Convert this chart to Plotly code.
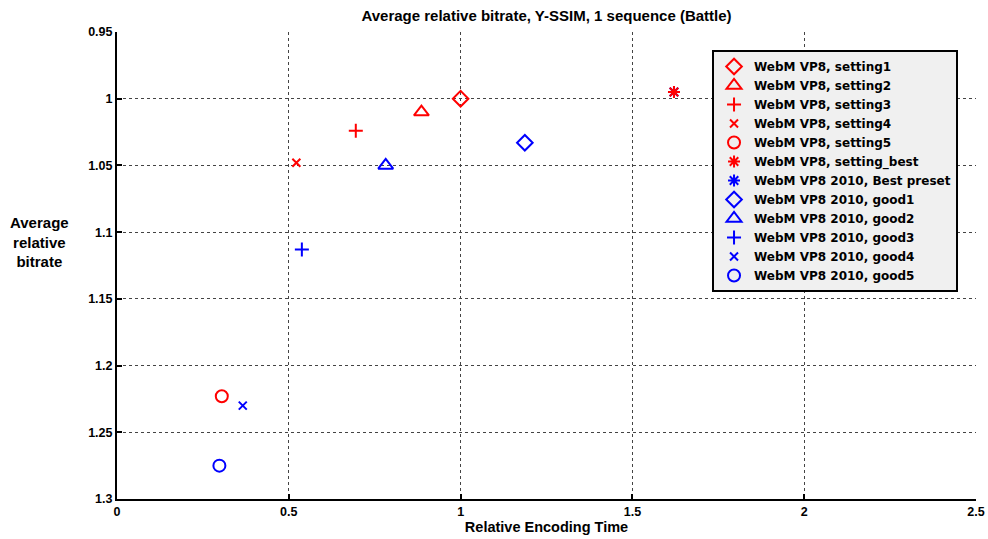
import plotly.graph_objects as go

# Relative encoding time (x) and average relative bitrate (y) per preset
series_names = [
    "WebM VP8 2010, Best preset",
    "WebM VP8, setting1",
    "WebM VP8, setting2",
    "WebM VP8, setting3",
    "WebM VP8, setting4",
    "WebM VP8, setting5",
    "WebM VP8, setting_best",
    "WebM VP8 2010, good1",
    "WebM VP8 2010, good2",
    "WebM VP8 2010, good3",
    "WebM VP8 2010, good4",
    "WebM VP8 2010, good5",
]
encoding_time = [1.621, 1.0, 0.886, 0.695, 0.522, 0.305, 1.621, 1.187, 0.782, 0.538, 0.366, 0.298]
relative_bitrate = [0.995, 1.0, 1.010, 1.024, 1.048, 1.223, 0.995, 1.033, 1.050, 1.113, 1.230, 1.275]
series_colors = ["#0000ff", "#ff0000", "#ff0000", "#ff0000", "#ff0000", "#ff0000", "#ff0000",
                 "#0000ff", "#0000ff", "#0000ff", "#0000ff", "#0000ff"]
series_symbols = ["asterisk-open", "diamond-open", "triangle-up-open", "cross-thin-open",
                  "x-thin-open", "circle-open", "asterisk-open", "diamond-open",
                  "triangle-up-open", "cross-thin-open", "x-thin-open", "circle-open"]
series_sizes = [10, 12, 13, 10, 8, 12, 10, 12, 13, 10, 8, 12]
legend_rank = [7, 1, 2, 3, 4, 5, 6, 8, 9, 10, 11, 12]

y_ticks = [0.95, 1.0, 1.05, 1.1, 1.15, 1.2, 1.25, 1.3]
y_tick_text = ["0.95", "1", "1.05", "1.1", "1.15", "1.2", "1.25", "1.3"]
x_ticks = [0, 0.5, 1, 1.5, 2, 2.5]
x_tick_text = ["0", "0.5", "1", "1.5", "2", "2.5"]

FONT = "Liberation Sans, Arial, sans-serif"
LEGEND_FONT = "DejaVu Sans, Liberation Sans, sans-serif"

fig = go.Figure()
for name, x, y, c, s, sz, rk in zip(series_names, encoding_time, relative_bitrate,
                                     series_colors, series_symbols, series_sizes, legend_rank):
    fig.add_trace(go.Scatter(
        x=[x], y=[y], mode="markers", name=name, legendrank=rk,
        marker=dict(symbol=s, size=sz, color=c, line=dict(color=c, width=2)),
    ))

axis_common = dict(
    showline=True, linewidth=2, linecolor="black", mirror=False,
    ticks="inside", ticklen=5, tickwidth=2, tickcolor="black",
    showgrid=True, gridcolor="#444444", gridwidth=1, griddash="dot",
    zeroline=False, automargin=False,
    tickfont=dict(family=FONT, size=12.5, color="black", weight="bold"),
)

fig.update_xaxes(range=[0, 2.5], tickvals=x_ticks, ticktext=x_tick_text,
                 title=dict(text="<b>Relative Encoding Time</b>", standoff=0,
                            font=dict(family=FONT, size=14.5, color="black")),
                 **axis_common)
fig.update_yaxes(range=[1.3, 0.95], tickvals=y_ticks, ticktext=y_tick_text, **axis_common)

fig.add_annotation(
    text="<b>Average<br>relative<br>bitrate</b>", xref="paper", yref="paper",
    x=-0.09, y=0.55, xanchor="center", yanchor="middle", showarrow=False,
    font=dict(family=FONT, size=15, color="black"),
)

fig.update_layout(
    width=988, height=539,
    margin=dict(l=117, r=12, t=32, b=40),
    paper_bgcolor="white", plot_bgcolor="white",
    title=dict(text="<b>Average relative bitrate, Y-SSIM, 1 sequence (Battle)</b>",
               x=0.5, xref="paper", xanchor="center", y=0.970, yanchor="middle",
               font=dict(family=FONT, size=15, color="black")),
    legend=dict(x=0.6927, y=0.9615, xanchor="left", yanchor="top",
                bgcolor="#f0f0f0", bordercolor="black", borderwidth=2,
                font=dict(family=LEGEND_FONT, size=12, color="black", weight="bold"),
                tracegroupgap=0, itemwidth=30),
    showlegend=True,
)

fig.write_html("out.html")
